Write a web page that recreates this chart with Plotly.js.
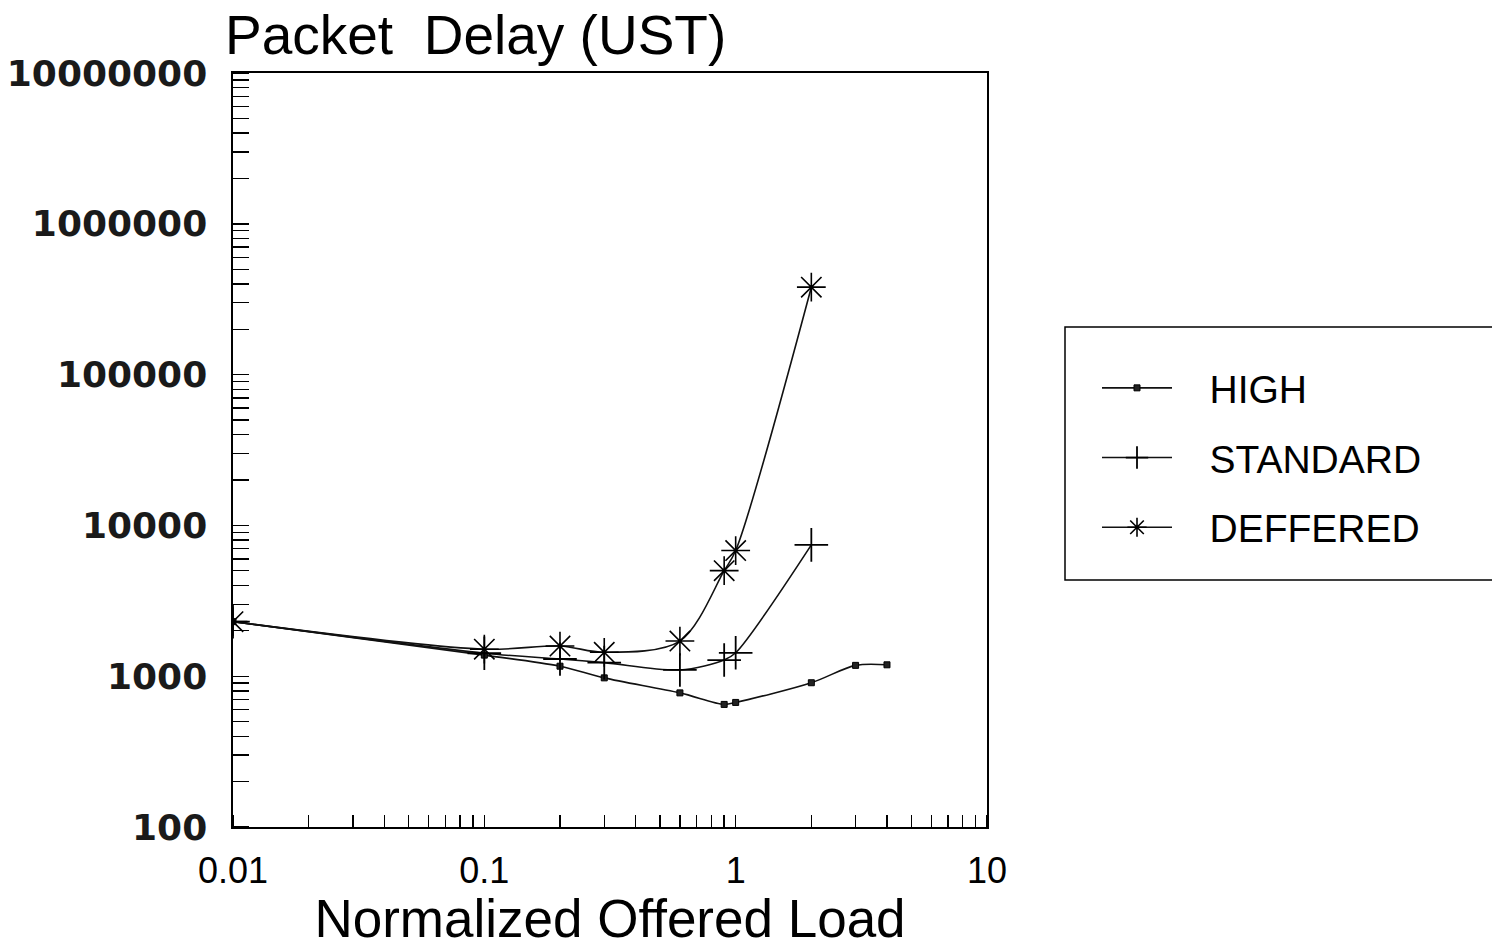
<!DOCTYPE html>
<html>
<head>
<meta charset="utf-8">
<script src="https://cdn.plot.ly/plotly-3.0.1.min.js"></script>
<style>html,body{margin:0;padding:0;background:#fff;}#chart{width:1492px;height:948px;}</style>
</head>
<body>
<div id="chart"></div>
<script>
// Data
const highLoad = [0.01, 0.1, 0.2, 0.3, 0.6, 0.9, 1.0, 2, 3, 4];
const highDelay = [2300, 1380, 1165, 975, 775, 650, 670, 905, 1180, 1190];

const standardLoad = [0.01, 0.1, 0.2, 0.3, 0.6, 0.9, 1.0, 2];
const standardDelay = [2300, 1420, 1300, 1230, 1100, 1280, 1430, 7430];

const defferedLoad = [0.01, 0.1, 0.2, 0.3, 0.6, 0.9, 1.0, 2];
const defferedDelay = [2300, 1510, 1585, 1440, 1710, 5010, 6810, 380000];

const xTickVals = [0.01, 0.1, 1, 10];
const xTickText = ['0.01', '0.1', '1', '10'];
const yTickVals = [100, 1000, 10000, 100000, 1000000, 10000000];
const yTickText = ['100', '1000', '10000', '100000', '1000000', '10000000'];

const lineStyle = {color: '#111', width: 1.6, shape: 'spline', smoothing: 0.9};

const traces = [
  {x: highLoad, y: highDelay, name: '\u00a0\u00a0\u00a0HIGH', mode: 'lines+markers', legendgroup: 'a',
   line: lineStyle, marker: {symbol: 'square', size: 6, color: '#222', line: {color: '#000', width: 1}}},
  {x: standardLoad, y: standardDelay, name: '\u00a0\u00a0\u00a0STANDARD', mode: 'lines+markers', legendgroup: 'b',
   line: lineStyle, marker: {symbol: 'cross-thin-open', size: 24, color: '#000', line: {color: '#000', width: 1.8}}},
  {x: defferedLoad, y: defferedDelay, name: '\u00a0\u00a0\u00a0DEFFERED', mode: 'lines+markers', legendgroup: 'c',
   line: lineStyle, marker: {symbol: 'asterisk-open', size: 24, color: '#000', line: {color: '#000', width: 1.6}}}
];

const W = 1492, H = 948;
const L = 233, R = 987, T = 73, B = 827;
const pw = R - L, ph = B - T;

const layout = {
  width: W, height: H,
  margin: {l: L, r: W - R, t: T, b: H - B, pad: 0},
  paper_bgcolor: '#fff', plot_bgcolor: '#fff',
  showlegend: true,
  title: {text: 'Packet\u00a0 Delay (UST)', x: 225 / W, xanchor: 'left', xref: 'container',
          y: 1 - 35 / H, yanchor: 'middle', yref: 'container',
          font: {family: 'Liberation Sans', size: 55, color: '#000'}},
  xaxis: {
    type: 'log', range: [-2, 1],
    showgrid: false, zeroline: false,
    showline: true, linecolor: '#000', linewidth: 1.6, mirror: true,
    tickmode: 'array', tickvals: xTickVals, ticktext: xTickText,
    ticks: '', ticklabelstandoff: 11,
    tickfont: {family: 'Liberation Sans', size: 36, color: '#000'},
    minor: {ticks: 'inside', ticklen: 12, tickwidth: 1.4, tickcolor: '#000', dtick: 'D1', showgrid: false},
    title: {text: 'Normalized Offered Load', standoff: 18,
            font: {family: 'Liberation Sans', size: 53, color: '#000'}}
  },
  yaxis: {
    type: 'log', range: [2, 7],
    showgrid: false, zeroline: false,
    showline: true, linecolor: '#000', linewidth: 1.6, mirror: true,
    tickmode: 'array', tickvals: yTickVals, ticktext: yTickText,
    ticks: '', ticklabelstandoff: 17,
    tickfont: {family: 'DejaVu Sans', size: 36, weight: 'bold', color: '#1a1a1a'},
    minor: {ticks: 'inside', ticklen: 16, tickwidth: 1.4, tickcolor: '#000', dtick: 'D1', showgrid: false}
  },
  legend: {
    x: (1097 - L) / pw, y: (B - 356) / ph, xanchor: 'left', yanchor: 'top',
    xref: 'paper', yref: 'paper',
    bgcolor: 'rgba(0,0,0,0)', borderwidth: 0,
    font: {family: 'Liberation Sans', size: 39, color: '#000'},
    traceorder: 'grouped', tracegroupgap: 16, itemwidth: 70,
    itemclick: false
  },
  shapes: [
    {type: 'rect', xref: 'paper', yref: 'paper',
     x0: (1065 - L) / pw, x1: (1500 - L) / pw, y0: (B - 580) / ph, y1: (B - 327) / ph,
     line: {color: '#000', width: 1.5}, fillcolor: 'rgba(0,0,0,0)'}
  ]
};

Plotly.newPlot('chart', traces, layout, {displayModeBar: false, staticPlot: true});
</script>
</body>
</html>
